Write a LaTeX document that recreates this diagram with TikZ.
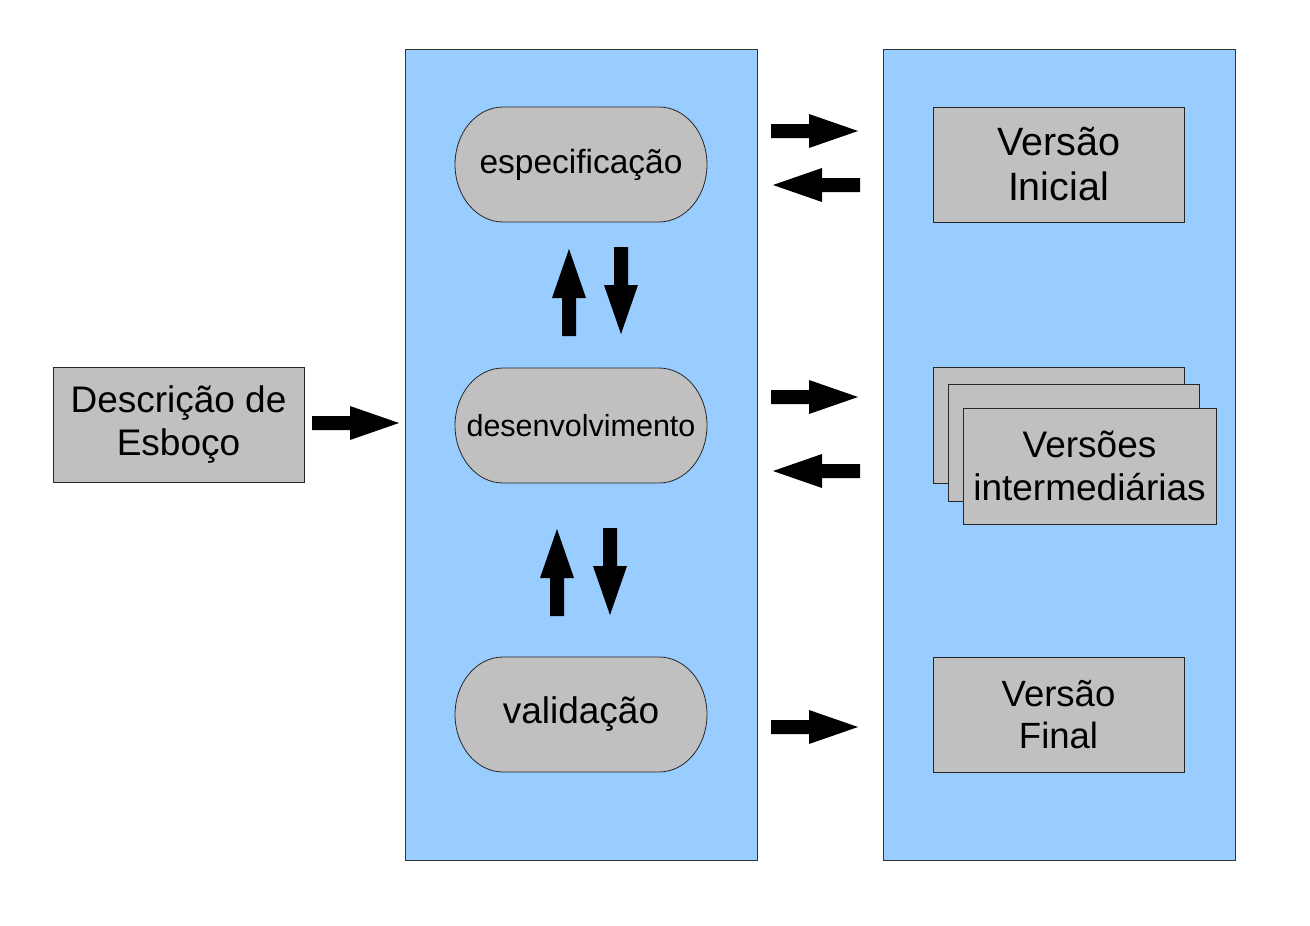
\documentclass[tikz,border=0pt]{standalone}
\usepackage{fontspec}
\setmainfont{Liberation Sans}
\definecolor{panelblue}{HTML}{99CCFF}
\definecolor{boxgray}{HTML}{C0C0C0}
\begin{document}
\begin{tikzpicture}[x=1pt,y=-1pt,
  panel/.style={draw=black!80,fill=panelblue,line width=0.8pt,minimum width=352pt,minimum height=811pt,inner sep=0pt,outer sep=0pt},
  gbox/.style={draw=black!85,fill=boxgray,line width=0.8pt,minimum width=251pt,minimum height=115pt,inner sep=0pt,outer sep=0pt,align=center,font=\fontsize{37}{43}\selectfont},
  stad/.style={draw=black!85,fill=boxgray,line width=0.8pt},
  stadtext/.style={minimum width=252pt,minimum height=115pt,inner sep=0pt,outer sep=0pt},
  stadium/.pic={\path[stad] (-78,-57.5) -- (78,-57.5) arc[start angle=90,end angle=-90,x radius=48pt,y radius=57.5pt] -- (-78,57.5) arc[start angle=270,end angle=90,x radius=48pt,y radius=57.5pt] -- cycle;},
  barrow/.pic={\fill[black] (0,-7) -- (38,-7) -- (38,-17) -- (87,0) -- (38,17) -- (38,7) -- (0,7) -- cycle;}]
\useasboundingbox[fill=white] (0,0) rectangle (1310,926);

% panels
\node[panel] (lpanel) at (581,454.5) {};
\node[panel] (rpanel) at (1059,454.5) {};

% left box
\node[gbox] (desc) at (178.5,425) {Descrição de\\Esboço};

% stadiums
\pic at (581,164.5) {stadium};
\node[stadtext,font=\fontsize{33.5}{40}\selectfont] (spec) at (581,164.5) {especificação};
\pic at (581,425.5) {stadium};
\node[stadtext,font=\fontsize{30.5}{36}\selectfont] (dev) at (581,425.5) {desenvolvimento};
\pic at (581,714.5) {stadium};
\node[stadtext,font=\fontsize{37}{43}\selectfont] (val) at (581,714.5) {validação};

% right boxes
\node[gbox,font=\fontsize{39.5}{45}\selectfont] (vini) at (1058.5,164.5) {Versão\\Inicial};
\node[gbox,minimum height=116pt] (vback) at (1058.5,425) {};
\node[gbox,minimum height=117pt] (vmid) at (1073.5,443) {};
\node[gbox,minimum width=253pt,minimum height=116pt] (vint) at (1089.5,466) {Versões\\intermediárias};
\node[gbox,font=\fontsize{36.5}{42}\selectfont] (vfin) at (1058.5,714.5) {Versão\\Final};

% block arrows
\pic at (312,423) {barrow};
\pic at (771,131) {barrow};
\pic[rotate=180] at (860,185) {barrow};
\pic at (771,397) {barrow};
\pic[rotate=180] at (860,471) {barrow};
\pic at (771,727) {barrow};
\pic[rotate=90] at (569,336) {barrow};
\pic[rotate=-90] at (621,247) {barrow};
\pic[rotate=90] at (557,616) {barrow};
\pic[rotate=-90] at (610,528) {barrow};
\end{tikzpicture}
\end{document}
